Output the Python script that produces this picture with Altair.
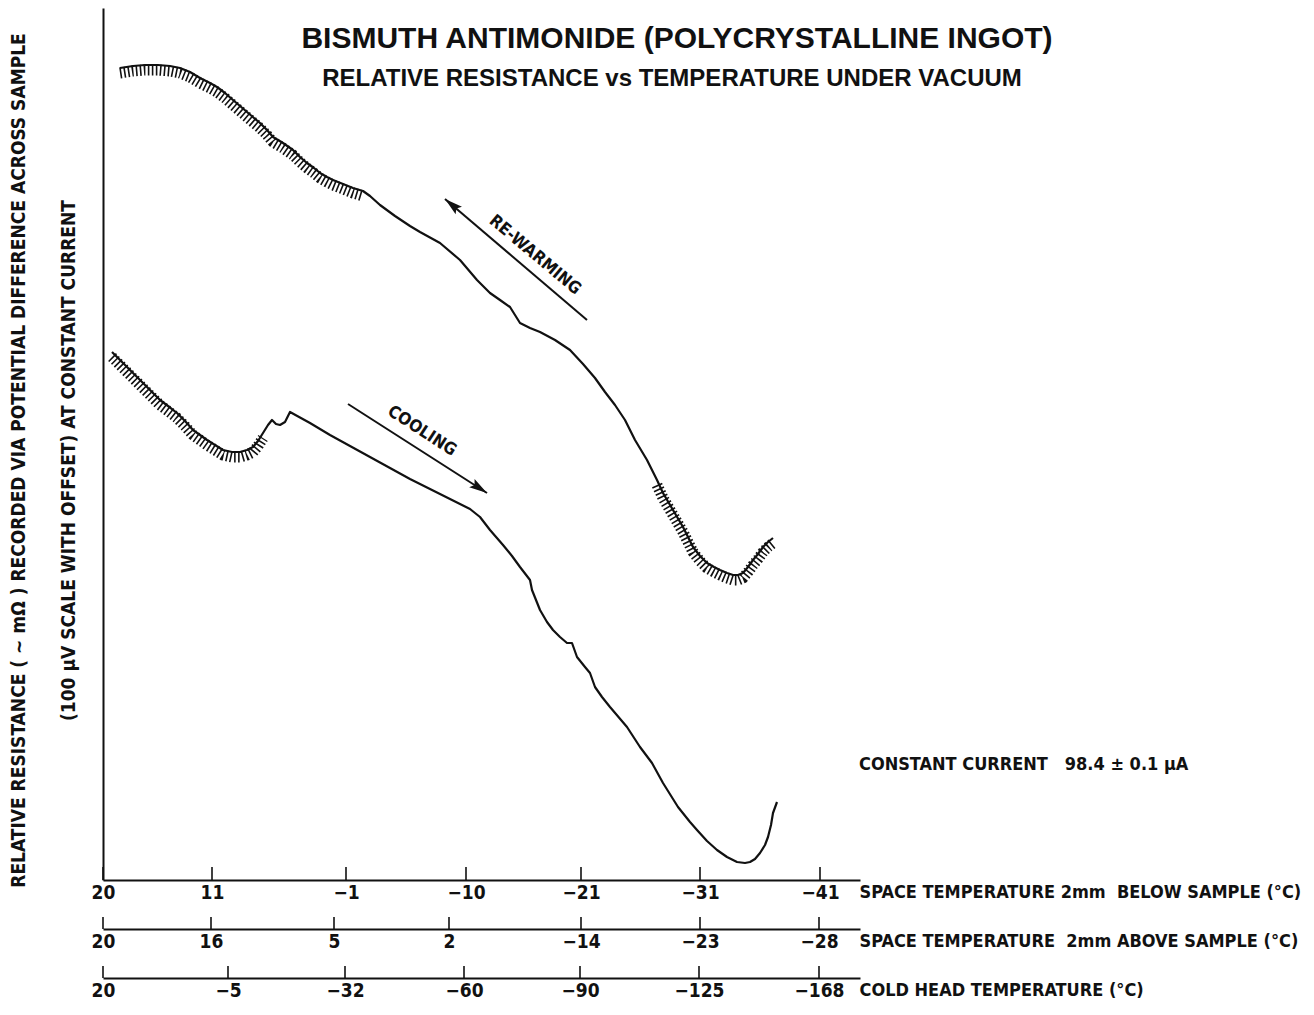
import json
import altair as alt
import pandas as pd

COND = "'DejaVu Sans Condensed', 'Liberation Sans Narrow', sans-serif"
HEAD = "'Liberation Sans', Arial, sans-serif"
INK = "#111111"
NB = "\u00a0"

TITLE = "BISMUTH ANTIMONIDE (POLYCRYSTALLINE INGOT)"
SUBTITLE = "RELATIVE RESISTANCE vs TEMPERATURE UNDER VACUUM"
Y_TITLE = [
    "RELATIVE RESISTANCE ( ~ mΩ ) RECORDED VIA POTENTIAL DIFFERENCE ACROSS SAMPLE",
    "(100 μV SCALE WITH OFFSET) AT CONSTANT CURRENT",
]
AX_TITLES = [
    f"SPACE TEMPERATURE 2mm{NB} BELOW SAMPLE (°C)",
    f"SPACE TEMPERATURE{NB} 2mm ABOVE SAMPLE (°C)",
    "COLD HEAD TEMPERATURE (°C)",
]
CURRENT_NOTE = f"CONSTANT CURRENT{NB}{NB} 98.4 ± 0.1 μA"

# Recorder traces: u = chart position along the time/temperature axes, v = relative resistance (arbitrary units)
RW_U = [17, 30, 42, 55, 67, 77, 87, 97, 107, 114, 122, 130, 137, 144, 151, 157, 164, 170, 180, 190,
        197, 204, 211, 217, 224, 230, 240, 250, 260, 267, 277, 292, 307, 317, 337, 357, 374, 387, 397, 407,
        412, 417, 427, 437, 452, 467, 480, 492, 502, 512, 522, 532, 544, 554, 560, 570, 580, 590, 597, 604,
        611, 617, 624, 630, 635, 640, 645, 650, 655, 660, 665, 670]
RW_V = [817, 819, 820, 820, 819, 817, 813, 807, 802, 798, 792, 785, 779, 773, 767, 762, 755, 748, 742, 735,
        728, 722, 717, 712, 708, 705, 701, 697, 694, 689, 680, 669, 659, 653, 642, 625, 605, 592, 585, 578,
        570, 562, 557, 553, 545, 535, 521, 507, 493, 480, 465, 445, 425, 405, 392, 375, 358, 338, 329, 322,
        318, 315, 312, 310, 310, 312, 318, 325, 331, 338, 343, 347]

CL_U = [9, 16, 24, 32, 40, 48, 57, 65, 74, 82, 90, 97, 104, 112, 120, 129, 137, 144, 150, 155,
        160, 165, 169, 173, 177, 182, 187, 207, 227, 247, 267, 287, 307, 327, 347, 367, 377, 387, 400, 409,
        417, 427, 429, 437, 444, 450, 457, 464, 469, 474, 482, 487, 492, 499, 507, 524, 537, 549, 560, 575,
        587, 594, 604, 614, 624, 634, 642, 647, 652, 657, 662, 665, 668, 670, 674]
CL_V = [533, 526, 518, 510, 502, 494, 485, 479, 472, 464, 455, 450, 445, 440, 435, 433, 433, 435, 438, 444,
        452, 460, 465, 461, 460, 463, 473, 462, 450, 439, 428, 417, 406, 396, 386, 376, 368, 355, 340, 329,
        318, 305, 295, 275, 263, 255, 248, 242, 242, 228, 218, 212, 198, 188, 178, 158, 138, 122, 102, 78,
        63, 55, 44, 35, 28, 23, 22, 23, 26, 32, 40, 48, 60, 72, 83]

# stretches of the record that carry recorder pen jitter
NOISY = {"Re-warming": [(0, 262), (552, 700)], "Cooling": [(0, 162)]}

# bottom scales: tick positions (chart units) and printed temperatures
AX1_POS = [0, 109, 243, 363, 478, 597, 717]
AX1_LAB = ["20", "11", "−1", "−10", "−21", "−31", "−41"]
AX2_POS = [0, 108, 231, 346, 478, 597, 716]
AX2_LAB = ["20", "16", "5", "2", "−14", "−23", "−28"]
AX3_POS = [0, 125, 242, 361, 477, 596, 716]
AX3_LAB = ["20", "−5", "−32", "−60", "−90", "−125", "−168"]

# direction arrows and their labels (chart units)
ARROW_TAIL_U = [484, 245]
ARROW_TAIL_V = [565, 481]
ARROW_TIP_U = [342, 384]
ARROW_TIP_V = [686, 392]
ARROW_ANGLE = [310, 123]
ARROW_TEXT = ["RE-WARMING", "COOLING"]
ARROW_TEXT_U = [432, 319]
ARROW_TEXT_V = [630, 454]
ARROW_TEXT_ANGLE = [40, 33]

W, H = 757, 872
XS = alt.Scale(domain=[0, W], nice=False, zero=False)
YS = alt.Scale(domain=[5, 877], nice=False, zero=False)

rows = []
for name, us, vs in [("Re-warming", RW_U, RW_V), ("Cooling", CL_U, CL_V)]:
    for i, (u, v) in enumerate(zip(us, vs)):
        rows.append({"series": name, "idx": i, "u": u, "v": v})
trace = pd.DataFrame(rows)

parts = []
for name, ranges in NOISY.items():
    sub = trace[trace.series == name]
    for k, (a, b) in enumerate(ranges):
        p = sub[(sub.u >= a) & (sub.u <= b)].copy()
        p["seg"] = f"{name}-{k}"
        parts.append(p)
noisy = pd.concat(parts)


def x_axis(pos, labels, title):
    expr = f"{json.dumps(labels, ensure_ascii=False)}[indexof({json.dumps(pos)}, datum.value)]"
    return alt.Axis(values=pos, labelExpr=expr, ticks=False, domain=True, grid=False,
                    title=title, titleX=W - 1, titleY=17, titleAlign="left",
                    titleBaseline="alphabetic", titleAngle=0, labelPadding=3,
                    labelFlush=False, labelOverlap=False)


AX1 = x_axis(AX1_POS, AX1_LAB, AX_TITLES[0])
YAX = alt.Axis(title=Y_TITLE, labels=False, ticks=False, grid=False, domain=True,
               titleX=-85, titleY=452, titleAngle=270, titleAlign="center",
               titleBaseline="middle", titleLineHeight=50, titleFontSize=19)


def xe(field):
    return alt.X(f"{field}:Q", scale=XS, axis=AX1)


def ye(field):
    return alt.Y(f"{field}:Q", scale=YS, axis=YAX)


lines = alt.Chart(trace).mark_line(color=INK, strokeWidth=2.2, strokeJoin="round").encode(
    x=xe("u"), y=ye("v"), detail="series:N", order="idx:Q")

hatch = alt.Chart(noisy).mark_line(color=INK, strokeWidth=11, strokeDash=[1.6, 2.4],
                                   yOffset=5, strokeCap="butt").encode(
    x=xe("u"), y=ye("v"), detail="seg:N", order="idx:Q")

ticks1 = alt.Chart(pd.DataFrame({"u": AX1_POS})).mark_rule(color=INK, strokeWidth=1.6).encode(
    x=xe("u"), y=alt.value(H - 13), y2=alt.value(H))

arrows_df = pd.DataFrame({"u": ARROW_TAIL_U, "v": ARROW_TAIL_V, "u2": ARROW_TIP_U,
                          "v2": ARROW_TIP_V, "ang": ARROW_ANGLE})
arrow_lines = alt.Chart(arrows_df).mark_rule(color=INK, strokeWidth=2).encode(
    x=xe("u"), y=ye("v"), x2="u2:Q", y2="v2:Q")
arrow_heads = alt.Chart(arrows_df).mark_point(
    shape="M0,0L0.55,2L0,1.65L-0.55,2Z", filled=True, size=324, color=INK, opacity=1,
    strokeWidth=0).encode(x=xe("u2"), y=ye("v2"), angle=alt.Angle("ang:Q", scale=None))

labels_df = pd.DataFrame({"u": ARROW_TEXT_U, "v": ARROW_TEXT_V, "txt": ARROW_TEXT,
                          "ang": ARROW_TEXT_ANGLE})
arrow_labels = alt.Chart(labels_df).mark_text(font=COND, fontSize=17, fontWeight="bold",
                                              color=INK, align="center", baseline="middle").encode(
    x=xe("u"), y=ye("v"), text="txt:N", angle=alt.Angle("ang:Q", scale=None))

title = alt.Chart(pd.DataFrame({"t": [TITLE]})).mark_text(
    font=HEAD, fontSize=30, fontWeight="bold", color=INK, align="center", baseline="alphabetic"
).encode(x=alt.value(574), y=alt.value(40), text="t:N")
subtitle = alt.Chart(pd.DataFrame({"t": [SUBTITLE]})).mark_text(
    font=HEAD, fontSize=24, fontWeight="bold", color=INK, align="center", baseline="alphabetic"
).encode(x=alt.value(569), y=alt.value(78), text="t:N")
note = alt.Chart(pd.DataFrame({"t": [CURRENT_NOTE]})).mark_text(
    font=COND, fontSize=18, fontWeight="bold", color=INK, align="left", baseline="alphabetic"
).encode(x=alt.value(756), y=alt.value(762), text="t:N")

main = alt.layer(lines, hatch, ticks1, arrow_lines, arrow_heads, arrow_labels,
                 title, subtitle, note).properties(width=W, height=H)


def axis_panel(pos, labels, title_text):
    return alt.Chart(pd.DataFrame({"u": pos})).mark_rule(color=INK, strokeWidth=1.6).encode(
        x=alt.X("u:Q", scale=XS, axis=x_axis(pos, labels, title_text)),
        y=alt.value(0), y2=alt.value(12)).properties(width=W, height=12)


chart = alt.vconcat(
    main,
    axis_panel(AX2_POS, AX2_LAB, AX_TITLES[1]),
    axis_panel(AX3_POS, AX3_LAB, AX_TITLES[2]),
    spacing=37, bounds="flush",
).resolve_scale(x="independent").resolve_axis(x="independent").properties(
    padding=0, background="white"
).configure_view(stroke=None).configure_axis(
    domainColor=INK, domainWidth=2, labelColor=INK, titleColor=INK,
    labelFont=COND, labelFontSize=19, labelFontWeight="bold",
    titleFont=COND, titleFontSize=18, titleFontWeight="bold", grid=False,
)

chart.save("out.html", embed_options={"renderer": "svg", "actions": False})
